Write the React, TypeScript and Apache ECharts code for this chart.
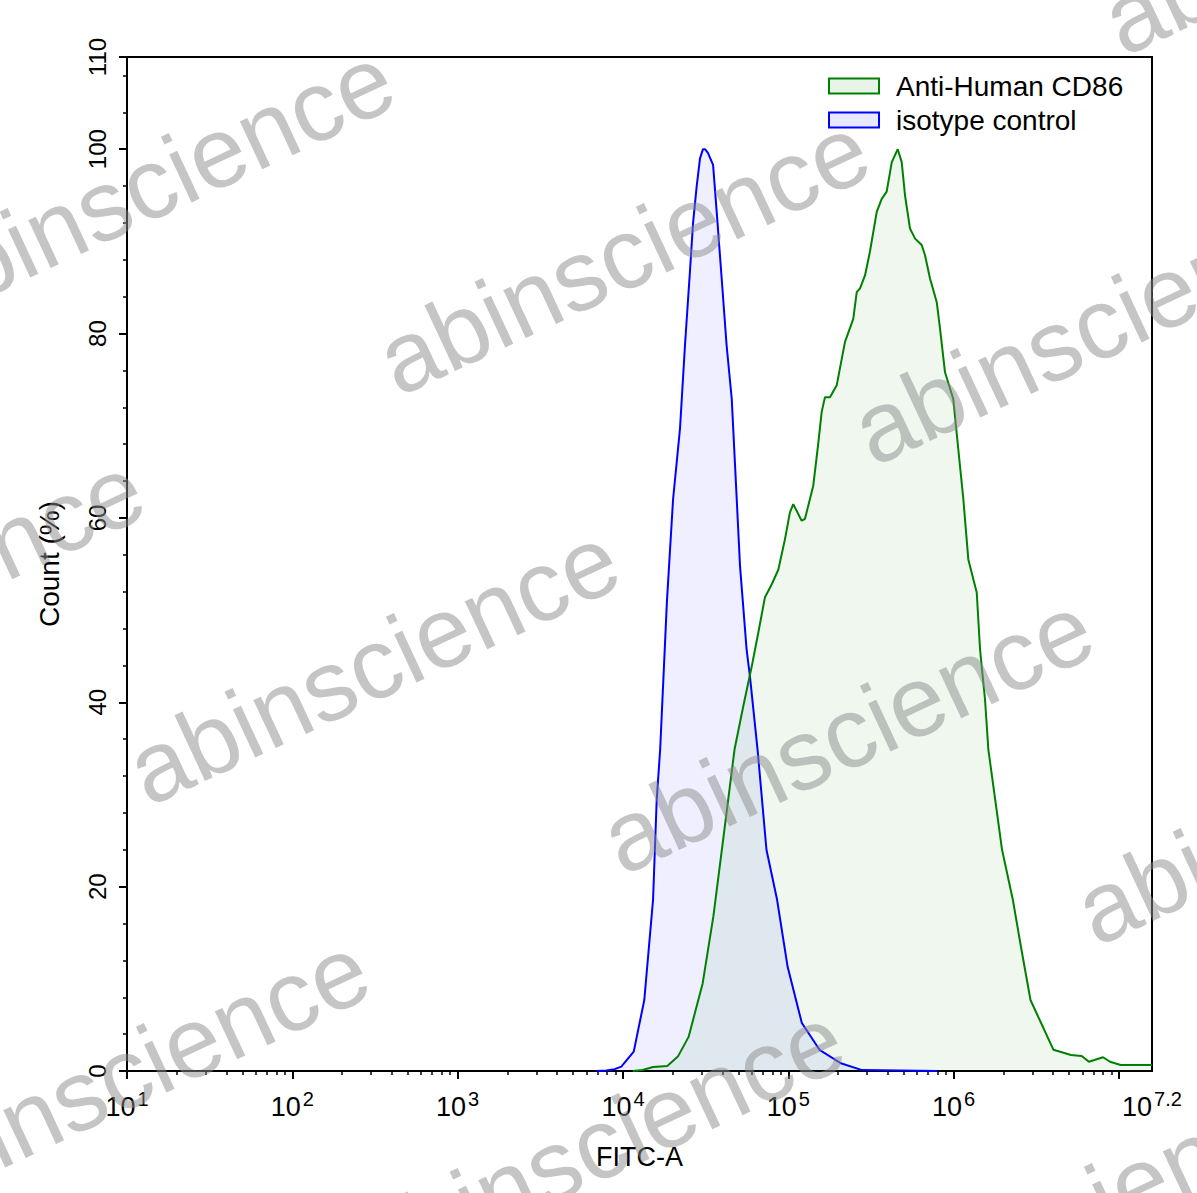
import React, { useEffect, useRef } from "react";
import * as echarts from "echarts";

// x values are log10(FITC-A); y values are Count (%)
const isotypeX = [3.84, 3.90, 3.95, 3.99, 4.065, 4.129, 4.182, 4.204, 4.225, 4.266, 4.303, 4.345, 4.375, 4.405, 4.424, 4.446, 4.466, 4.484, 4.496, 4.514, 4.545, 4.567, 4.597, 4.627, 4.658, 4.678, 4.708, 4.748, 4.768, 4.814, 4.868, 4.932, 4.996, 5.082, 5.189, 5.318, 5.446, 5.676, 5.9];
const isotypeY = [0, 0.05, 0.2, 0.47, 2.1, 7.7, 18.6, 29.4, 34.9, 51, 62, 69.7, 78.7, 86.7, 92, 96, 99, 100, 100, 99.6, 98.3, 93.2, 86, 78.7, 72.9, 65.7, 54.8, 45.7, 42.8, 34.9, 24, 18.6, 11.3, 5.2, 2.3, 0.84, 0.1, 0.05, 0];

const cd86X = [4.06, 4.118, 4.182, 4.268, 4.332, 4.397, 4.482, 4.547, 4.611, 4.675, 4.728, 4.779, 4.819, 4.859, 4.900, 4.940, 4.980, 5.010, 5.030, 5.081, 5.101, 5.151, 5.182, 5.202, 5.222, 5.252, 5.293, 5.343, 5.393, 5.414, 5.434, 5.464, 5.494, 5.535, 5.565, 5.595, 5.626, 5.662, 5.686, 5.706, 5.736, 5.767, 5.807, 5.827, 5.857, 5.898, 5.918, 5.948, 5.998, 6.028, 6.059, 6.089, 6.140, 6.160, 6.190, 6.210, 6.293, 6.358, 6.411, 6.465, 6.604, 6.710, 6.775, 6.818, 6.904, 6.946, 7.011, 7.2];
const cd86Y = [0, 0.1, 0.43, 0.55, 1.56, 3.7, 9.5, 16.8, 25.8, 34.9, 39.6, 43.9, 47.6, 51.4, 52.8, 54.4, 57.7, 60.6, 61.5, 59.7, 59.9, 63.5, 68.2, 71.5, 73.1, 73.1, 74.4, 79.1, 81.6, 84.5, 84.9, 86.3, 88.9, 93.2, 94.6, 95.4, 98.6, 100, 98.6, 95, 91.4, 90.3, 89.6, 88.5, 86, 83.4, 80.5, 75.8, 72.9, 67.5, 62, 55.5, 51.9, 45.7, 40.3, 34.9, 24, 18.6, 13.1, 7.7, 2.3, 1.74, 1.63, 1.0, 1.49, 1.0, 0.65, 0.65];

const seriesNames = ["Anti-Human CD86", "isotype control"];
const xMajorTicks = [1, 2, 3, 4, 5, 6, 7];
const xLabelValues = [1, 2, 3, 4, 5, 6, 7.2];
const X_MIN = 1;
const X_MAX = 7.2;
const Y_MIN = 0;
const Y_MAX = 110;

const FONT = "'Liberation Sans', Arial, sans-serif";

const watermarkCenters: [number, number][] = [
  [623, 254], [1098, 324], [373, 664], [847, 733], [148, 184], [-102, 594],
  [123, 1074], [598, 1144], [1321, 804], [1348, -86], [1071, 1214],
];

function minorTicks(): number[] {
  const out: number[] = [];
  for (let n = 1; n <= 7; n++) {
    for (let k = 2; k <= 9; k++) {
      const v = Math.log10(k) + n;
      if (v < X_MAX) out.push(v);
    }
  }
  return out;
}

export default function App() {
  const ref = useRef<HTMLDivElement>(null);
  useEffect(() => {
    if (!ref.current) return;
    const chart = echarts.init(ref.current, null, { renderer: "svg" });
    const zip = (xs: number[], ys: number[]) => xs.map((x, i) => [x, ys[i]]);
    const rot = (25 * Math.PI) / 180;
    chart.setOption({
      animation: false,
      backgroundColor: "#fff",
      grid: {
        left: 127, right: 45, top: 57, bottom: 122,
        show: true, borderColor: "#000", borderWidth: 2,
        outerBoundsMode: "none",
      },
      legend: {
        orient: "vertical",
        left: 823,
        top: 66,
        icon: "rect",
        itemWidth: 50,
        itemHeight: 15,
        itemGap: 4,
        textStyle: { fontSize: 28, fontFamily: FONT, color: "#000", lineHeight: 30, padding: [0, 0, 0, 12] },
        data: [
          { name: seriesNames[0], itemStyle: { color: "rgba(0,128,0,0.09)", borderColor: "#008000", borderWidth: 2 } },
          { name: seriesNames[1], itemStyle: { color: "rgba(0,0,255,0.09)", borderColor: "#0000ff", borderWidth: 2 } },
        ],
      },
      xAxis: [
        {
          type: "value", min: X_MIN, max: X_MAX, position: "bottom",
          axisLine: { onZero: false, lineStyle: { color: "#000", width: 2 } },
          axisTick: { customValues: xMajorTicks, length: 8, lineStyle: { color: "#000", width: 2 } },
          axisLabel: {
            customValues: xLabelValues,
            margin: 18,
            hideOverlap: false,
            formatter: (v: number) => `{b|10}{s|${Math.round(v * 10) / 10}}`,
            rich: {
              b: { fontSize: 27, fontFamily: FONT, color: "#000", verticalAlign: "bottom" },
              s: { fontSize: 20, fontFamily: FONT, color: "#000", verticalAlign: "bottom", padding: [0, 0, 11, 2] },
            },
          },
          splitLine: { show: false },
          name: "FITC-A",
          nameLocation: "middle",
          nameGap: 72,
          nameTextStyle: { fontSize: 27, fontFamily: FONT, color: "#000" },
        },
        {
          type: "value", min: X_MIN, max: X_MAX, position: "bottom",
          axisLine: { show: false, onZero: false },
          axisTick: { customValues: minorTicks(), length: 4, lineStyle: { color: "#000", width: 1.5 } },
          axisLabel: { show: false },
          splitLine: { show: false },
        },
      ],
      yAxis: [
        {
          type: "value", min: Y_MIN, max: Y_MAX, interval: 20, position: "left",
          axisLine: { show: true, onZero: false, lineStyle: { color: "#000", width: 2 } },
          axisTick: { show: true, length: 8, lineStyle: { color: "#000", width: 2 } },
          axisLabel: { rotate: 90, margin: 18, fontSize: 24, fontFamily: FONT, color: "#000" },
          splitLine: { show: false },
          name: "Count (%)",
          nameLocation: "middle",
          nameGap: 64,
          nameTextStyle: { fontSize: 28, fontFamily: FONT, color: "#000" },
        },
        {
          type: "value", min: Y_MIN, max: Y_MAX, interval: 4, position: "left", offset: 0,
          axisLine: { show: false, onZero: false },
          axisTick: { show: true, length: 4, lineStyle: { color: "#000", width: 1.5 } },
          axisLabel: { show: false },
          splitLine: { show: false },
        },
      ],
      series: [
        {
          name: seriesNames[1], type: "line", data: zip(isotypeX, isotypeY),
          symbol: "none", smooth: false,
          itemStyle: { color: "rgba(0,0,255,0.09)", borderColor: "#0000ff" },
          lineStyle: { color: "#0000ff", width: 2 },
          areaStyle: { color: "rgba(0,0,255,0.09)", origin: "start" },
        },
        {
          name: seriesNames[0], type: "line", data: zip(cd86X, cd86Y),
          symbol: "none", smooth: false,
          itemStyle: { color: "rgba(0,128,0,0.09)", borderColor: "#008000" },
          lineStyle: { color: "#008000", width: 2 },
          areaStyle: { color: "rgba(0,128,0,0.09)", origin: "start" },
        },
      ],
      graphic: watermarkCenters.map(([x, y]) => ({
        type: "text",
        x, y, rotation: rot, z: 100, silent: true,
        style: {
          text: "abinscience",
          fontSize: 100,
          fontFamily: FONT,
          fill: "rgba(140,140,140,0.5)",
          textAlign: "center",
          textVerticalAlign: "middle",
        },
      })),
    });
    return () => chart.dispose();
  }, []);
  return <div ref={ref} style={{ position: "fixed", left: 0, top: 0, width: 1197, height: 1193 }} />;
}
